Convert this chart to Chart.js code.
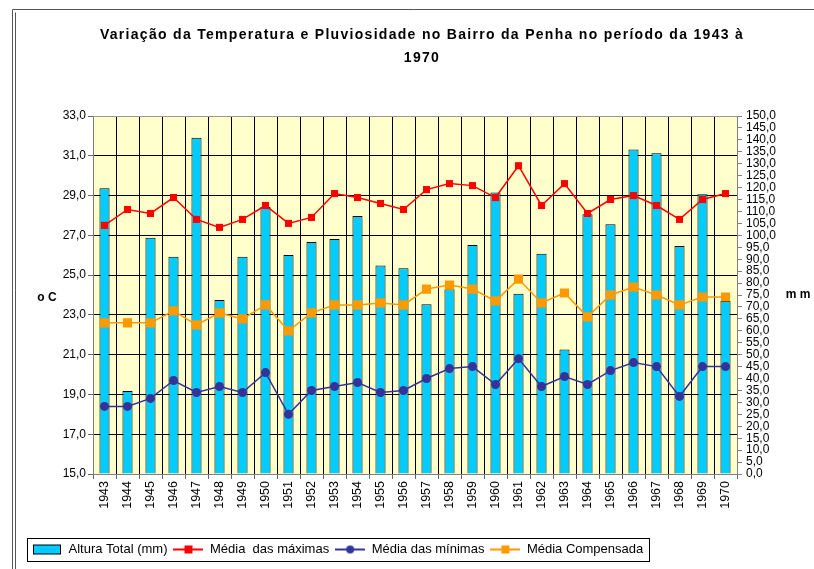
<!DOCTYPE html>
<html>
<head>
<meta charset="utf-8">
<script src="https://cdn.jsdelivr.net/npm/chart.js@4.4.0/dist/chart.umd.min.js"></script>
<style>
  html, body { margin: 0; padding: 0; background: #fff; }
</style>
</head>
<body>
<canvas id="chart" width="814" height="569"></canvas>
<script>
// data
const years = ['1943', '1944', '1945', '1946', '1947', '1948', '1949', '1950', '1951', '1952',
    '1953', '1954', '1955', '1956', '1957', '1958', '1959', '1960', '1961', '1962',
    '1963', '1964', '1965', '1966', '1967', '1968', '1969', '1970'];

const rainfall = [119.7, 34.8, 99.0, 91.0, 140.9, 72.9, 91.0, 111.9, 91.8, 97.2,
    98.5, 108.1, 87.4, 86.2, 71.1, 77.4, 95.9, 117.9, 75.5, 92.3,
    52.2, 108.8, 104.6, 136.0, 134.4, 95.5, 117.2, 72.5];

const maxTemps = [27.5, 28.3, 28.1, 28.9, 27.8, 27.4, 27.8, 28.5, 27.6, 27.9,
    29.1, 28.9, 28.6, 28.3, 29.3, 29.6, 29.5, 28.9, 30.5, 28.5,
    29.6, 28.1, 28.8, 29.0, 28.5, 27.8, 28.8, 29.1];

const minTemps = [18.4, 18.4, 18.8, 19.7, 19.1, 19.4, 19.1, 20.1, 18.0, 19.2,
    19.4, 19.6, 19.1, 19.2, 19.8, 20.3, 20.4, 19.5, 20.8, 19.4,
    19.9, 19.5, 20.2, 20.6, 20.4, 18.9, 20.4, 20.4];

const compTemps = [22.6, 22.6, 22.6, 23.2, 22.5, 23.1, 22.8, 23.5, 22.2, 23.1,
    23.5, 23.5, 23.6, 23.5, 24.3, 24.5, 24.3, 23.7, 24.8, 23.6,
    24.1, 22.9, 24.0, 24.4, 24.0, 23.5, 23.9, 23.9];

const seriesNames = ['Altura Total (mm)', 'Média  das máximas', 'Média das mínimas', 'Média Compensada'];
const titleLines = ['Variação da Temperatura e Pluviosidade no Bairro da Penha no período da 1943 à', '1970'];

const FONT = '"Liberation Sans", Arial, sans-serif';
const commaFmt = v => Number(v).toFixed(1).replace('.', ',');

// small canvases used as legend symbols
function makeIcon(kind, color, marker) {
    const c = document.createElement('canvas');
    c.width = 30;
    c.height = 12;
    const g = c.getContext('2d');
    if (kind === 'bar') {
        g.fillStyle = color;
        g.fillRect(1.5, 1.5, 27, 9);
        g.strokeStyle = '#000';
        g.lineWidth = 1;
        g.strokeRect(1.5, 1.5, 27, 9);
        return c;
    }
    g.strokeStyle = color;
    g.lineWidth = 2;
    g.beginPath();
    g.moveTo(0, 6);
    g.lineTo(30, 6);
    g.stroke();
    g.fillStyle = color;
    if (marker === 'circle') {
        g.beginPath();
        g.arc(15, 6, 4, 0, Math.PI * 2);
        g.fill();
    } else {
        g.fillRect(11, 2, 8, 8);
    }
    return c;
}

const legendIcons = [
    makeIcon('bar', '#00CCFF'),
    makeIcon('line', '#FF0000', 'rect'),
    makeIcon('line', '#333399', 'circle'),
    makeIcon('line', '#FF9900', 'rect')
];

const decorPlugin = {
    id: 'decor',
    beforeDraw(chart) {
        const ctx = chart.ctx;
        const a = chart.chartArea;
        ctx.save();
        // frame of the document box
        ctx.strokeStyle = '#555';
        ctx.lineWidth = 1;
        ctx.beginPath();
        ctx.moveTo(12.5, 569);
        ctx.lineTo(12.5, 9.5);
        ctx.lineTo(814, 9.5);
        ctx.moveTo(15.5, 569);
        ctx.lineTo(15.5, 12.5);
        ctx.stroke();
        // plot background
        ctx.fillStyle = '#FFFFCC';
        ctx.fillRect(a.left, a.top, a.right - a.left, a.bottom - a.top);
        ctx.restore();
    },
    afterDraw(chart) {
        const ctx = chart.ctx;
        const a = chart.chartArea;
        ctx.save();
        // top border of plot
        ctx.strokeStyle = '#999';
        ctx.lineWidth = 1;
        ctx.beginPath();
        ctx.moveTo(a.left, a.top + 0.5);
        ctx.lineTo(a.right, a.top + 0.5);
        ctx.stroke();

        // title
        ctx.fillStyle = '#000';
        ctx.textAlign = 'center';
        ctx.textBaseline = 'middle';
        ctx.font = 'bold 14px ' + FONT;
        ctx.letterSpacing = '1.3px';
        ctx.fillText(titleLines[0], 422, 35);
        ctx.fillText(titleLines[1], 422, 58);
        ctx.letterSpacing = '0px';

        // axis titles
        ctx.font = 'bold 12px ' + FONT;
        ctx.fillText('o C', 47, 298);
        ctx.fillText('m m', 798, 295);

        // legend border
        const boxes = chart.legend.legendHitBoxes;
        if (boxes && boxes.length) {
            const l = Math.min(...boxes.map(b => b.left)) - 5;
            const r = Math.max(...boxes.map(b => b.left + b.width)) + 6;
            const t = boxes[0].top - 5;
            const h = boxes[0].height + 10;
            ctx.strokeStyle = '#000';
            ctx.strokeRect(Math.round(l) + 0.5, Math.round(t) + 0.5, Math.round(r - l), Math.round(h));
        }
        ctx.restore();
    }
};

const ctx = document.getElementById('chart').getContext('2d');
new Chart(ctx, {
    type: 'bar',
    data: {
        labels: years,
        datasets: [
            {
                type: 'bar',
                label: seriesNames[0],
                data: rainfall,
                yAxisID: 'yRain',
                backgroundColor: '#00CCFF',
                borderColor: '#000',
                borderWidth: 1,
                barPercentage: 0.44,
                categoryPercentage: 1,
                order: 4
            },
            {
                type: 'line',
                label: seriesNames[1],
                data: maxTemps,
                yAxisID: 'yTemp',
                borderColor: '#FF0000',
                backgroundColor: '#FF0000',
                borderWidth: 1.5,
                pointStyle: 'rect',
                pointRadius: 5,
                pointBorderWidth: 0,
                tension: 0,
                order: 1
            },
            {
                type: 'line',
                label: seriesNames[2],
                data: minTemps,
                yAxisID: 'yTemp',
                borderColor: '#333399',
                backgroundColor: '#333399',
                borderWidth: 1.5,
                pointStyle: 'circle',
                pointRadius: 4.5,
                pointBorderWidth: 0,
                tension: 0,
                order: 2
            },
            {
                type: 'line',
                label: seriesNames[3],
                data: compTemps,
                yAxisID: 'yTemp',
                borderColor: '#FF9900',
                backgroundColor: '#FF9900',
                borderWidth: 1.5,
                pointStyle: 'rect',
                pointRadius: 6.5,
                pointBorderWidth: 0,
                tension: 0,
                order: 3
            }
        ]
    },
    options: {
        responsive: false,
        animation: false,
        layout: {
            padding: { top: 116, left: 26, right: 0, bottom: 3 }
        },
        scales: {
            x: {
                offset: true,
                grid: { color: '#000', tickColor: '#666', tickLength: 5, offset: true },
                border: { color: '#808080' },
                ticks: {
                    color: '#000',
                    font: { family: FONT, size: 12.5 },
                    minRotation: 90,
                    maxRotation: 90,
                    autoSkip: false,
                    padding: 2
                },
                afterFit: s => { s.height = 63; }
            },
            yTemp: {
                position: 'left',
                min: 15,
                max: 33,
                grid: { color: '#000', tickColor: '#666', tickLength: 5 },
                border: { color: '#808080' },
                ticks: {
                    stepSize: 2,
                    color: '#000',
                    font: { family: FONT, size: 12 },
                    padding: 2,
                    callback: commaFmt
                },
                afterFit: s => { s.width = 67; }
            },
            yRain: {
                position: 'right',
                min: 0,
                max: 150,
                grid: { drawOnChartArea: false, tickColor: '#808080', tickLength: 5 },
                border: { color: '#808080' },
                ticks: {
                    stepSize: 5,
                    autoSkip: false,
                    maxTicksLimit: 40,
                    color: '#000',
                    font: { family: FONT, size: 12 },
                    padding: 4,
                    callback: commaFmt
                },
                afterFit: s => { s.width = 77; }
            }
        },
        plugins: {
            title: { display: false },
            tooltip: { enabled: false },
            legend: {
                position: 'bottom',
                align: 'start',
                labels: {
                    color: '#000',
                    font: { family: FONT, size: 13 },
                    usePointStyle: true,
                    pointStyleWidth: 30,
                    boxHeight: 12,
                    padding: 6,
                    generateLabels: chart => chart.data.datasets.map((ds, i) => ({
                        text: ds.label,
                        pointStyle: legendIcons[i],
                        fillStyle: ds.backgroundColor,
                        strokeStyle: ds.borderColor,
                        lineWidth: 0,
                        hidden: false,
                        datasetIndex: i
                    }))
                }
            }
        }
    },
    plugins: [decorPlugin]
});
</script>
</body>
</html>
